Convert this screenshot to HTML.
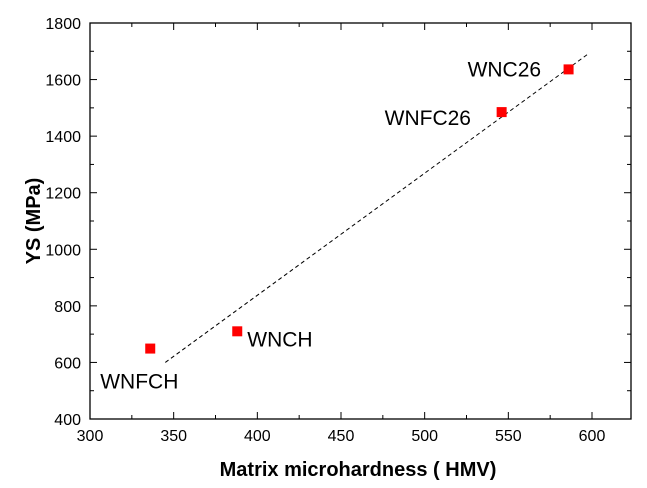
<!DOCTYPE html>
<html><head><meta charset="utf-8"><style>
html,body{margin:0;padding:0;background:#fff;}
svg{display:block;font-family:"Liberation Sans",Arial,sans-serif;}
</style></head><body>
<svg id="chart" width="647" height="488"></svg>
<script>
const xTicks=[300,350,400,450,500,550,600];
const yTicks=[400,600,800,1000,1200,1400,1600,1800];
const names=["WNFCH","WNCH","WNFC26","WNC26"];
const hardness=[336,388,546,586];
const ys=[649,710,1485,1636];
const fitX=[345,598];
const fitY=[600,1692];
const labelDx=[-50,10,-117,-101];
const labelDy=[33,8,6,0];
const L=90,R=631,T=23,B=419;
const x0=300,x1=300+(R-L)*300/(592-L),y0=400,y1=1800;
const sx=v=>L+(v-x0)/(x1-x0)*(R-L);
const sy=v=>B-(v-y0)/(y1-y0)*(B-T);
const svg=document.getElementById('chart');
const NS='http://www.w3.org/2000/svg';
function mk(t,a,p){const e=document.createElementNS(NS,t);for(const k in a)e.setAttribute(k,a[k]);(p||svg).appendChild(e);return e;}
let e=mk('rect',{x:L,y:T,width:R-L,height:B-T,fill:'none',stroke:'#000','stroke-width':1.3});


for(let v=300;v<=x1;v+=25){const maj=v%50===0;const x=sx(v);
 mk('line',{x1:x,y1:B,x2:x,y2:B-(maj?7:4),stroke:'#000'});
 mk('line',{x1:x,y1:T,x2:x,y2:T+(maj?7:4),stroke:'#000'});}
xTicks.forEach(v=>{const t=mk('text',{x:sx(v),y:B+22,'text-anchor':'middle','font-size':16});t.textContent=v;
 
 });
for(let v=400;v<=1800;v+=100){const maj=v%200===0;const y=sy(v);
 mk('line',{x1:L,y1:y,x2:L+(maj?7:4),y2:y,stroke:'#000'});
 mk('line',{x1:R,y1:y,x2:R-(maj?7:4),y2:y,stroke:'#000'});}
yTicks.forEach(v=>{const t=mk('text',{x:L-9,y:sy(v)+6,'text-anchor':'end','font-size':16});t.textContent=v;
 
 });
e=mk('line',{x1:sx(fitX[0]),y1:sy(fitY[0]),x2:sx(fitX[1]),y2:sy(fitY[1]),stroke:'#000','stroke-width':1,'stroke-dasharray':'4,3'});


names.forEach((n,i)=>{const x=sx(hardness[i]),y=sy(ys[i]);
 const r=mk('rect',{x:x-5,y:y-5,width:10,height:10,fill:'#f00'});
 
 
 const t=mk('text',{x:x+labelDx[i],y:y+labelDy[i]+7,'font-size':21});t.textContent=n;
 
 });
e=mk('text',{x:358,y:476,'text-anchor':'middle','font-size':20,'font-weight':'bold'});e.textContent='Matrix microhardness ( HMV)';


e=mk('text',{x:0,y:0,'text-anchor':'middle','font-size':20,'font-weight':'bold',transform:'translate(40,'+((T+B)/2)+') rotate(-90)'});e.textContent='YS (MPa)';


</script>
</body></html>
